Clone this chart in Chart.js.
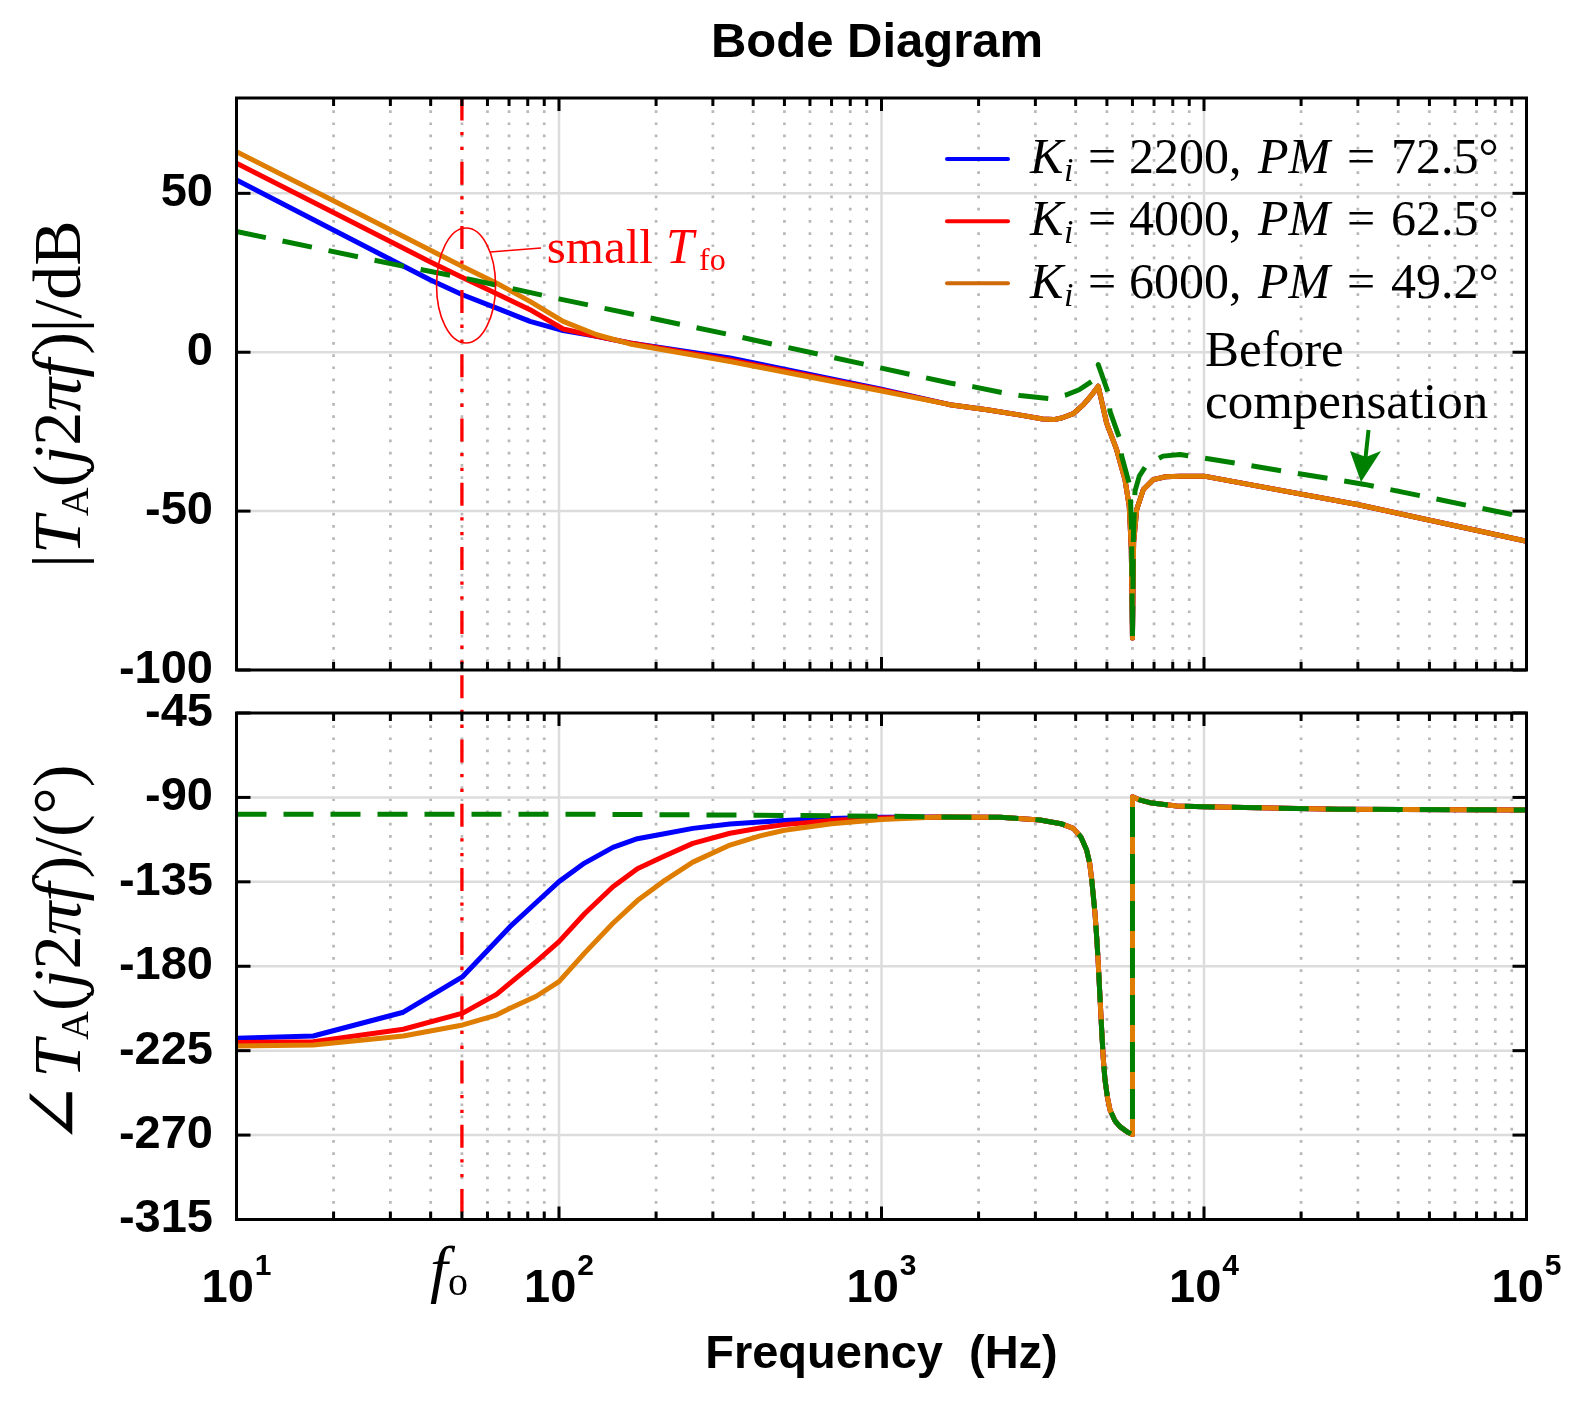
<!DOCTYPE html>
<html><head><meta charset="utf-8">
<script src="https://cdn.jsdelivr.net/npm/chart.js@4.4.1/dist/chart.umd.min.js"></script>
<style>
html,body{margin:0;padding:0;background:#fff;}
#wrap{position:relative;width:1577px;height:1402px;overflow:hidden;background:#fff;}
canvas{position:absolute;left:0;}
#c1{top:0;} #c2{top:690px;}
</style></head><body>
<div id="wrap"><canvas id="c1" width="1577" height="690"></canvas><canvas id="c2" width="1577" height="712"></canvas></div>
<script>
// ---------------- DATA ----------------
const magFreq   = [10, 19.5, 39.8, 50.2, 64.1, 81.3, 103, 131, 166, 339, 1000, 1629, 2125, 2700, 3160, 3420, 3622, 3935, 4227, 4488, 4620, 4700, 4990, 5356, 5688, 5865, 5950, 6000, 6050, 6185, 6485, 6965, 7600, 8420, 10000, 29900, 100000];
const magBlue   = [54.2, 39.0, 22.8, 18.1, 13.9, 9.7, 6.8, 5.0, 2.9, -1.8, -11.6, -16.5, -18.1, -19.8, -21.0, -21.2, -20.7, -19.3, -16.5, -13.4, -11.7, -10.7, -22.3, -30.6, -40.1, -48.5, -62, -90, -60, -49.5, -43.2, -40.1, -39.2, -39.0, -39.0, -47.9, -59.5];
const magRed    = [59.5, 44.5, 28.5, 23.5, 18.4, 13.4, 7.3, 5.0, 2.9, -2.4, -11.9, -16.5, -18.1, -19.8, -21.0, -21.2, -20.7, -19.3, -16.5, -13.4, -11.7, -10.7, -22.3, -30.6, -40.1, -48.5, -62, -90, -60, -49.5, -43.2, -40.1, -39.2, -39.0, -39.0, -47.9, -59.5];
const magOrange = [63.1, 48.2, 32.2, 27.0, 21.7, 16.0, 9.7, 5.5, 2.6, -2.9, -12.2, -16.5, -18.1, -19.8, -21.0, -21.2, -20.7, -19.3, -16.5, -13.4, -11.7, -10.7, -22.3, -30.6, -40.1, -48.5, -62, -90, -60, -49.5, -43.2, -40.1, -39.2, -39.0, -39.0, -47.9, -59.5];
const magGreenFreq = [10, 31.4, 50, 100, 339, 1000, 1629, 1936, 2393, 2689, 3331, 3750, 4100, 4487, 4620, 4700, 5047, 5111, 5490, 5557, 5896, 5960, 6000, 6040, 6110, 6300, 6643, 7460, 8420, 10000, 31500, 100000];
const magGreen     = [38.0, 27.5, 23.5, 16.8, 5.5, -5.0, -9.7, -10.9, -12.8, -13.6, -14.6, -13.4, -11.8, -9.2, -6.5, -3.9, -12.8, -18.6, -27.5, -32.7, -42.2, -55, -90, -58, -43.7, -39.0, -35.4, -32.7, -32.2, -33.3, -41.6, -52.0];

const phaseFreq   = [10, 17.3, 32.9, 50.3, 64, 70.5, 85, 100, 120, 147, 175, 210, 260, 339, 420, 500, 700, 1000, 1500, 2334, 3100, 3600, 3933, 4150, 4325, 4420, 4487, 4592, 4650, 4700, 4760, 4817, 4870, 4932, 5020, 5111, 5300, 5490, 5800, 6000, 6001, 6300, 6800, 8230, 10000, 26200, 100000];
const phaseTail   = [-100.4, -100.6, -102, -104, -106.5, -111, -118, -125, -134, -151.8, -165, -178.4, -197, -214, -229, -240.6, -250, -256.6, -262.5, -265.5, -268.5, -269.7, -89.6, -91.3, -92.8, -94.6, -95, -96.3, -96.7];
const phaseBlue   = [-218.4, -217.2, -204.5, -185.5, -166.5, -158.9, -146, -134.9, -125, -116.6, -112, -109.5, -106.5, -104.2, -103.1, -102.3, -101.2, -100.6].concat(phaseTail);
const phaseRed    = [-220.7, -220.2, -213.6, -205, -195, -189, -177.5, -166.9, -152, -137.6, -128, -121.6, -114.5, -109.1, -106.3, -104.5, -102.3, -101].concat(phaseTail);
const phaseOrange = [-222.5, -222, -217.2, -211.3, -206, -202.4, -196, -188.2, -173, -157.1, -145, -134.9, -124.5, -115.4, -110.5, -107.5, -104, -101.8].concat(phaseTail);
const phaseGreen  = [-99, -99, -99, -99, -99, -99, -99, -99, -99, -99.1, -99.1, -99.2, -99.3, -99.4, -99.5, -99.6, -99.8, -100].concat(phaseTail);

const magTicks   = [-100, -50, 0, 50];
const phaseTicks = [-315, -270, -225, -180, -135, -90, -45];
const xDecades   = [10, 100, 1000, 10000, 100000];
const xTickExp   = ['1', '2', '3', '4', '5'];
const fo = 50;
const legendKi = ['2200', '4000', '6000'];
const legendPM = ['72.5°', '62.5°', '49.2°'];

// ---------------- STYLE ----------------
const SERIF = "'Liberation Serif', 'Times New Roman', serif";
const SANS = "'Liberation Sans', Arial, sans-serif";
const C_BLUE = '#0000ff', C_RED = '#ff0000', C_ORANGE = '#de7d00', C_GREEN = '#008000';
const LEG_COLORS = ['#0000ff', '#ff0000', '#d06a08'];

function pts(fs, vs) { return fs.map((f, i) => ({ x: f, y: vs[i] })); }
const minorX = [];
xDecades.slice(0, -1).forEach(d => { for (let m = 2; m <= 9; m++) minorX.push(d * m); });

function line(ctx, x1, y1, x2, y2) { ctx.beginPath(); ctx.moveTo(x1, y1); ctx.lineTo(x2, y2); ctx.stroke(); }

function gridPlugin(yTicks) {
  return {
    id: 'gridp',
    beforeDatasetsDraw(chart) {
      const { ctx, chartArea: a, scales: { x, y } } = chart;
      ctx.save();
      ctx.lineCap = 'butt';
      ctx.strokeStyle = '#b8b8b8'; ctx.lineWidth = 2.7; ctx.setLineDash([2.7, 9.5]);
      minorX.forEach(v => { const px = x.getPixelForValue(v); line(ctx, px, a.top, px, a.bottom); });
      ctx.setLineDash([]); ctx.strokeStyle = '#dcdcdc'; ctx.lineWidth = 2.5;
      xDecades.forEach(v => { if (v > x.min && v < x.max) { const px = x.getPixelForValue(v); line(ctx, px, a.top, px, a.bottom); } });
      yTicks.forEach(v => { if (v > y.min && v < y.max) { const py = y.getPixelForValue(v); line(ctx, a.left, py, a.right, py); } });
      ctx.restore();
    }
  };
}

function drawFrame(chart, yTicks) {
  const { ctx, chartArea: a, scales: { x, y } } = chart;
  ctx.save();
  ctx.strokeStyle = '#000'; ctx.lineWidth = 3; ctx.setLineDash([]);
  ctx.strokeRect(a.left, a.top, a.right - a.left, a.bottom - a.top);
  yTicks.forEach(v => {
    const py = y.getPixelForValue(v);
    line(ctx, a.left, py, a.left + 14, py); line(ctx, a.right - 14, py, a.right, py);
  });
  xDecades.forEach(v => {
    const px = x.getPixelForValue(v);
    line(ctx, px, a.top, px, a.top + 13); line(ctx, px, a.bottom - 13, px, a.bottom);
  });
  minorX.forEach(v => {
    const px = x.getPixelForValue(v);
    line(ctx, px, a.top, px, a.top + 8); line(ctx, px, a.bottom - 8, px, a.bottom);
  });
  ctx.restore();
}

function drawFo(chart, y1, y2, offset) {
  const { ctx, scales: { x } } = chart;
  const px = x.getPixelForValue(fo);
  ctx.save();
  ctx.strokeStyle = C_RED; ctx.lineWidth = 3.3; ctx.lineCap = 'butt';
  ctx.setLineDash([23, 11.5, 3.3, 11.5, 3.3, 11.6]); ctx.lineDashOffset = offset;
  line(ctx, px, y1, px, y2);
  ctx.restore();
}

function richWidth(ctx, segs) { let w = 0; segs.forEach(s => { ctx.font = s.font; w += ctx.measureText(s.t).width + (s.sp || 0); }); return w; }
function drawRich(ctx, x0, y0, segs) {
  let cx = x0;
  segs.forEach(s => { ctx.font = s.font; if (s.x !== undefined) cx = s.x; ctx.fillText(s.t, cx, y0 + (s.dy || 0)); cx += ctx.measureText(s.t).width + (s.sp || 0); });
}
function drawVTitle(ctx, bx, cy, segs) {
  ctx.save();
  ctx.translate(bx, cy); ctx.rotate(-Math.PI / 2);
  ctx.fillStyle = '#000'; ctx.textBaseline = 'alphabetic'; ctx.textAlign = 'left';
  const w = richWidth(ctx, segs);
  drawRich(ctx, -w / 2, 0, segs);
  ctx.restore();
}

const R68 = `68px ${SERIF}`, I68 = `italic 68px ${SERIF}`, S40 = `40px ${SERIF}`;

const topExtras = {
  id: 'topExtras',
  afterDatasetsDraw(chart) {
    const { ctx, scales: { x, y }, chartArea: a } = chart;
    drawFo(chart, a.top, chart.height, 0.5);
    ctx.save();
    ctx.strokeStyle = C_RED; ctx.lineWidth = 1.6;
    ctx.beginPath(); ctx.ellipse(x.getPixelForValue(51.5), y.getPixelForValue(21), 29.5, 57.5, 0, 0, Math.PI * 2); ctx.stroke();
    line(ctx, 490, 252, 541, 248);
    ctx.fillStyle = C_RED; ctx.textBaseline = 'alphabetic';
    drawRich(ctx, 546.7, 263.3, [
      { t: 'small', font: `49px ${SERIF}` },
      { t: 'T', font: `italic 50px ${SERIF}`, x: 666 },
      { t: 'fo', font: `32px ${SERIF}`, dy: 7, x: 699 }
    ]);
    for (let i = 0; i < 3; i++) {
      const ly = 159 + i * 62.15, by = ly + 14.3;
      ctx.strokeStyle = LEG_COLORS[i]; ctx.lineWidth = 4; ctx.lineCap = 'round';
      line(ctx, 947, ly, 1008, ly);
      ctx.fillStyle = '#000';
      drawRich(ctx, 1030, by, [
        { t: 'K', font: `italic 50px ${SERIF}`, x: 1030 },
        { t: 'i', font: `italic 34px ${SERIF}`, dy: 8, x: 1064 },
        { t: '=', font: `50px ${SERIF}`, x: 1088 },
        { t: legendKi[i] + ',', font: `50px ${SERIF}`, x: 1129 },
        { t: 'PM', font: `italic 50px ${SERIF}`, x: 1258 },
        { t: '=', font: `50px ${SERIF}`, x: 1347 },
        { t: legendPM[i], font: `50px ${SERIF}`, x: 1391 }
      ]);
    }
    ctx.fillStyle = '#000'; ctx.font = `51px ${SERIF}`;
    ctx.fillText('Before', 1205, 366);
    ctx.fillText('compensation', 1205, 418);
    ctx.strokeStyle = C_GREEN; ctx.fillStyle = C_GREEN; ctx.lineWidth = 4; ctx.lineCap = 'butt';
    line(ctx, 1368.5, 430, 1365.5, 458);
    ctx.beginPath(); ctx.moveTo(1361, 482); ctx.lineTo(1350, 451); ctx.lineTo(1366, 457); ctx.lineTo(1381, 451); ctx.closePath(); ctx.fill();
    ctx.fillStyle = '#000'; ctx.font = `bold 49px ${SANS}`; ctx.textAlign = 'center';
    ctx.fillText('Bode Diagram', 877, 57);
    ctx.restore();
    drawVTitle(ctx, 80, 394, [
      { t: '|', font: R68 }, { t: 'T', font: I68 }, { t: 'A', font: S40, dy: 8 },
      { t: '(', font: R68 }, { t: 'j', font: I68 }, { t: '2', font: R68 }, { t: 'π', font: I68 },
      { t: 'f', font: I68, sp: 4 }, { t: ')|/dB', font: R68 }
    ]);
  },
  afterDraw(chart) { drawFrame(chart, magTicks); }
};

const botExtras = {
  id: 'botExtras',
  afterDatasetsDraw(chart) {
    const { ctx, scales: { x }, chartArea: a } = chart;
    drawFo(chart, 0, a.bottom, 592.5);
    const OFF = 690;
    ctx.save();
    ctx.fillStyle = '#000'; ctx.textBaseline = 'alphabetic'; ctx.textAlign = 'left';
    xDecades.forEach((d, i) => {
      const px = x.getPixelForValue(d);
      ctx.font = `bold 47px ${SANS}`; const w1 = ctx.measureText('10').width;
      ctx.font = `bold 30px ${SANS}`; const w2 = ctx.measureText(xTickExp[i]).width;
      const sx = px - (w1 + w2 + 1) / 2;
      ctx.font = `bold 47px ${SANS}`; ctx.fillText('10', sx, 1301.7 - OFF);
      ctx.font = `bold 30px ${SANS}`; ctx.fillText(xTickExp[i], sx + w1 + 1, 1274.5 - OFF);
    });
    ctx.font = `italic 64px ${SERIF}`; ctx.fillText('f', 430, 1290 - OFF);
    ctx.font = `40px ${SERIF}`; ctx.fillText('o', 448, 1295 - OFF);
    ctx.font = `bold 47px ${SANS}`; ctx.textAlign = 'center';
    ctx.fillText('Frequency  (Hz)', 881.5, 1368 - OFF);
    ctx.restore();
    drawVTitle(ctx, 80, 955 - OFF, [
      { t: '∠', font: `76px 'DejaVu Serif', ${SERIF}`, sp: 4 }, { t: 'T', font: I68 }, { t: 'A', font: S40, dy: 8 },
      { t: '(', font: R68 }, { t: 'j', font: I68 }, { t: '2', font: R68 }, { t: 'π', font: I68 },
      { t: 'f', font: I68, sp: 4 }, { t: ')/(°)', font: R68 }
    ]);
  },
  afterDraw(chart) { drawFrame(chart, phaseTicks); }
};

function ds(label, data, color, order, dashed) {
  return { label, data, borderColor: color, backgroundColor: color, borderWidth: 5, pointRadius: 0, tension: 0,
    borderDash: dashed ? [30, 17] : [], borderCapStyle: 'butt', borderJoinStyle: 'round', order, fill: false };
}

function makeOptions(yMin, yMax, yTicks, pad) {
  return {
    responsive: false, animation: false, devicePixelRatio: 1,
    layout: { padding: pad },
    plugins: { legend: { display: false }, tooltip: { enabled: false }, title: { display: false } },
    scales: {
      x: { type: 'logarithmic', min: 10, max: 100000, display: true,
        ticks: { display: false }, grid: { display: false, drawTicks: false }, border: { display: false },
        afterFit(s) { s.height = 0; s.paddingLeft = 0; s.paddingRight = 0; s.paddingTop = 0; s.paddingBottom = 0; } },
      y: { type: 'linear', min: yMin, max: yMax,
        afterBuildTicks(s) { s.ticks = yTicks.map(v => ({ value: v })); },
        ticks: { color: '#000', font: { family: SANS, size: 47, weight: 'bold' }, padding: 23.5, autoSkip: false,
          callback: v => String(v) },
        grid: { display: false, drawTicks: false }, border: { display: false },
        afterFit(s) { s.width = 236.5; s.paddingTop = 0; s.paddingBottom = 0; s.paddingLeft = 0; s.paddingRight = 0; } }
    }
  };
}

new Chart(document.getElementById('c1'), {
  type: 'line',
  data: { datasets: [
    ds('Ki = 2200', pts(magFreq, magBlue), C_BLUE, 4, false),
    ds('Ki = 4000', pts(magFreq, magRed), C_RED, 3, false),
    ds('Ki = 6000', pts(magFreq, magOrange), C_ORANGE, 2, false),
    ds('Before compensation', pts(magGreenFreq, magGreen), C_GREEN, 1, true)
  ] },
  options: makeOptions(-100, 80, magTicks, { left: 0, right: 50.5, top: 98, bottom: 20 }),
  plugins: [gridPlugin(magTicks), topExtras]
});

new Chart(document.getElementById('c2'), {
  type: 'line',
  data: { datasets: [
    ds('Ki = 2200', pts(phaseFreq, phaseBlue), C_BLUE, 4, false),
    ds('Ki = 4000', pts(phaseFreq, phaseRed), C_RED, 3, false),
    ds('Ki = 6000', pts(phaseFreq, phaseOrange), C_ORANGE, 2, false),
    ds('Before compensation', pts(phaseFreq, phaseGreen), C_GREEN, 1, true)
  ] },
  options: makeOptions(-315, -45, phaseTicks, { left: 0, right: 50.5, top: 23, bottom: 182.5 }),
  plugins: [gridPlugin(phaseTicks), botExtras]
});
</script>
</body></html>
